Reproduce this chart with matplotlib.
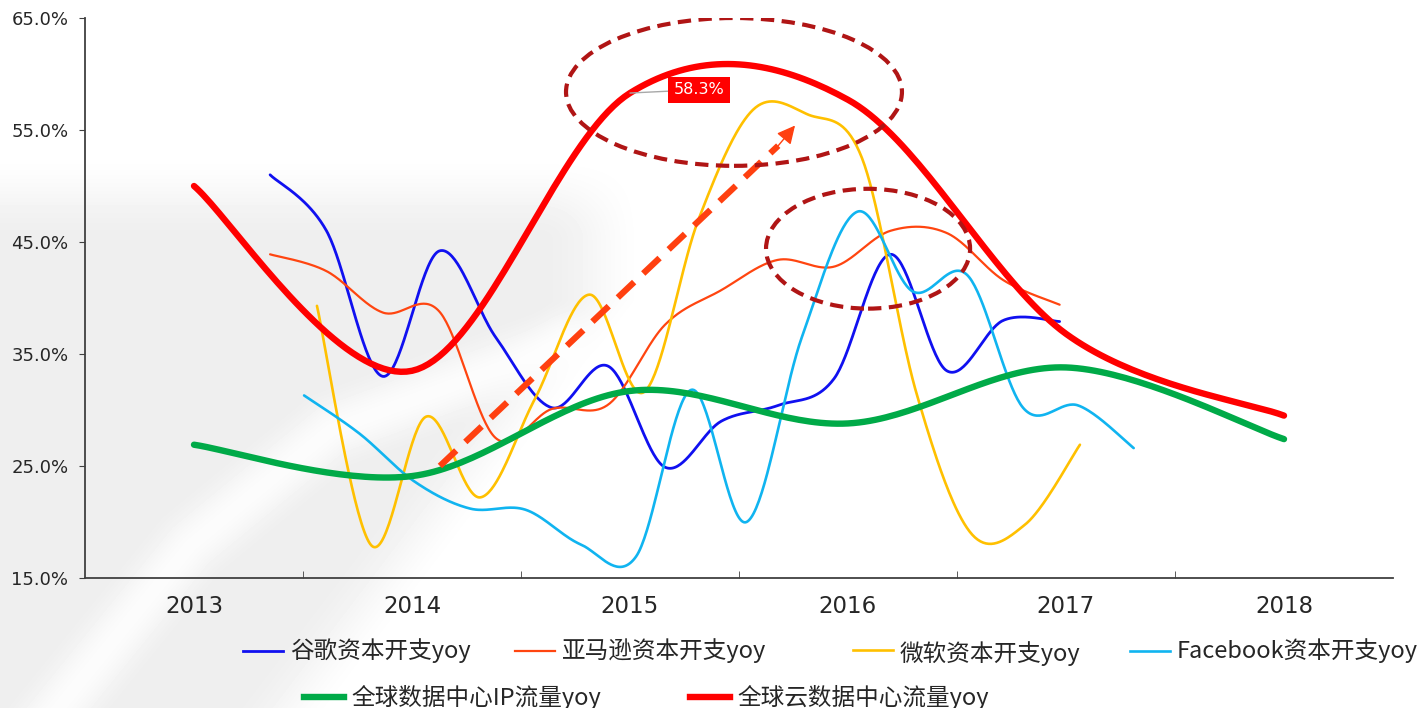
import numpy as np
import matplotlib
matplotlib.use('Agg')
import matplotlib.pyplot as plt
from matplotlib.patches import Ellipse
from matplotlib.lines import Line2D

# 数据（同比增速，%）
years = ['2013', '2014', '2015', '2016', '2017', '2018']
cloud_yoy = [50.0, 33.5, 58.3, 57.7, 36.8, 29.5]
ip_yoy = [26.9, 24.1, 31.7, 28.8, 33.8, 27.4]

# 季度数据：起点与步长（单位：年）
google_start, google_step = 0.349, 0.2587
google_yoy = [51.0, 46.0, 33.0, 44.2, 36.5, 30.2, 33.9, 24.9, 29.0, 30.4, 32.8, 43.9, 33.5, 38.0, 37.9]
amazon_start, amazon_step = 0.349, 0.2587
amazon_yoy = [43.9, 42.4, 38.7, 38.8, 27.5, 30.1, 30.5, 37.6, 40.7, 43.4, 42.8, 46.0, 45.8, 41.6, 39.4]
msft_start, msft_step = 0.564, 0.25
msft_yoy = [39.3, 17.9, 29.4, 22.2, 31.0, 40.3, 31.6, 47.0, 56.8, 56.4, 52.5, 31.5, 19.0, 19.8, 26.9]
fb_start, fb_step = 0.505, 0.2537
fb_yoy = [31.3, 27.9, 23.6, 21.2, 21.1, 18.0, 16.9, 31.8, 20.0, 36.5, 47.7, 40.6, 42.0, 30.2, 30.4, 26.6]

labels = ['谷歌资本开支yoy', '亚马逊资本开支yoy', '微软资本开支yoy', 'Facebook资本开支yoy',
          '全球数据中心IP流量yoy', '全球云数据中心流量yoy']
colors = ['#1010F0', '#FF4510', '#FFC000', '#10B4F0', '#00AA48', '#FF0000']
widths = [2.0, 1.6, 1.9, 1.9, 4.6, 4.6]

W, H = 1424, 708
plt.rcParams['font.family'] = ['DejaVu Sans']


def smooth(x, y, n=40):
    """Excel 风格平滑线（Catmull-Rom 贝塞尔）"""
    pts = np.column_stack([x, y]).astype(float)
    p = np.vstack([pts[0], pts, pts[-1]])
    t = np.linspace(0, 1, n, endpoint=False)[:, None]
    out = []
    for i in range(1, len(p) - 2):
        p0, p1, p2, p3 = p[i - 1], p[i], p[i + 1], p[i + 2]
        c1 = p1 + (p2 - p0) / 6
        c2 = p2 - (p3 - p1) / 6
        out.append((1 - t) ** 3 * p1 + 3 * (1 - t) ** 2 * t * c1 + 3 * (1 - t) * t ** 2 * c2 + t ** 3 * p2)
    out.append(pts[-1:])
    s = np.vstack(out)
    return s[:, 0], s[:, 1]


def sstep(v):
    v = np.clip(v, 0, 1)
    return v * v * (3 - 2 * v)


def seg_dist(X, Y, pts):
    d = np.full(X.shape, 1e9)
    for (x0, y0), (x1, y1) in zip(pts[:-1], pts[1:]):
        dx, dy = x1 - x0, y1 - y0
        t = np.clip(((X - x0) * dx + (Y - y0) * dy) / (dx * dx + dy * dy), 0, 1)
        d = np.minimum(d, np.hypot(X - x0 - t * dx, Y - y0 - t * dy))
    return d


fig = plt.figure(figsize=(W / 100, H / 100), dpi=100)

# 背景水印（浅灰弧形）
X, Y = np.meshgrid(np.arange(W), np.arange(H))
xb = np.where(Y >= 300, 330 + (720 - Y) * (320 / 420), 650)
g = sstep((Y - 150) / 90) * sstep((xb - X) / 110)
s1 = 1 - sstep(seg_dist(X, Y, [(40, 730), (190, 545), (330, 430), (560, 345)]) / 45)
field = 1 - 0.065 * g * (1 - 0.8 * s1)
bg = fig.add_axes([0, 0, 1, 1], zorder=0)
bg.imshow(field, cmap='gray', vmin=0, vmax=1, extent=(0, W, H, 0), aspect='auto', interpolation='bilinear')
bg.axis('off')

ax = fig.add_axes([85 / W, 1 - 578 / H, (1393 - 85) / W, (578 - 18) / H], zorder=1)
ax.patch.set_alpha(0)

quarterly = [(google_start, google_step, google_yoy), (amazon_start, amazon_step, amazon_yoy),
             (msft_start, msft_step, msft_yoy), (fb_start, fb_step, fb_yoy)]
for i, (x0, st, vals) in enumerate(quarterly):
    xs = x0 + st * np.arange(len(vals))
    sx, sy = smooth(xs, vals)
    ax.plot(sx, sy, color=colors[i], lw=widths[i], solid_capstyle='round', zorder=2)

yx = np.arange(len(years))
for i, vals in enumerate([ip_yoy, cloud_yoy]):
    sx, sy = smooth(yx, vals)
    ax.plot(sx, sy, color=colors[4 + i], lw=widths[4 + i], solid_capstyle='round', zorder=3)

# 标注
for cx, cy, ew, eh in [(2.477, 58.4, 1.541, 13.2), (3.092, 44.4, 0.936, 10.7)]:
    ax.add_patch(Ellipse((cx, cy), ew, eh, fill=False, ec='#B01515', lw=3,
                         linestyle=(0, (3.2, 1.8)), zorder=5))

arrow_start, arrow_end = (1.128, 25.0), (2.757, 55.4)
ax.plot([arrow_start[0], 2.68], [arrow_start[1], 53.6], color='#FF4010', lw=4.5,
        dashes=(3.6, 2.0), zorder=4)
ax.annotate('', xy=arrow_end, xytext=(2.68, 53.6),
            arrowprops=dict(arrowstyle='-|>,head_length=1.1,head_width=0.55', color='#FF4010',
                            lw=1, shrinkA=0, shrinkB=0), zorder=4)

ax.annotate('58.3%', xy=(2.0, cloud_yoy[2]), xytext=(2.317, 58.6), color='white', fontsize=11.5,
            ha='center', va='center',
            bbox=dict(boxstyle='square,pad=0.35', fc='#FF0000', ec='none'),
            arrowprops=dict(arrowstyle='-', color='#A8A8A8', lw=1, shrinkA=0, shrinkB=0), zorder=6)

ax.set_xlim(-0.5, 5.5)
ax.set_ylim(15, 65)
ax.set_xticks(yx)
ax.set_xticklabels(years, fontsize=16.5, color='#262626')
ax.set_xticks(yx[:-1] + 0.5, minor=True)
ax.tick_params(axis='x', which='major', length=0, pad=12)
ax.tick_params(axis='x', which='minor', direction='in', length=5, color='#404040')
ax.set_yticks(np.arange(15, 66, 10))
ax.set_yticklabels([f'{v:.1f}%' for v in np.arange(15, 66, 10)], fontsize=13, color='#262626')
ax.tick_params(axis='y', length=4, pad=8, color='#404040')
for side in ['top', 'right']:
    ax.spines[side].set_visible(False)
for side in ['left', 'bottom']:
    ax.spines[side].set_color('#404040')
    ax.spines[side].set_linewidth(1.3)

# 图例（手工排布）
legend_pos = [(243, 651, 0), (515, 651, 0), (853, 650, 4), (1130, 651, 0), (304, 697, 0), (690, 697, 0)]
for i, (lx, ly, dy) in enumerate(legend_pos):
    fig.add_artist(Line2D([lx / W, (lx + 40) / W], [1 - ly / H] * 2, color=colors[i],
                          lw=widths[i] if i < 4 else 4.6, transform=fig.transFigure))
    fig.text((lx + 47) / W, 1 - (ly + dy) / H, labels[i], fontsize=17, color='#262626',
             va='center', ha='left', family=['Noto Sans CJK SC', 'DejaVu Sans'])

fig.savefig('out.png', dpi=100)
